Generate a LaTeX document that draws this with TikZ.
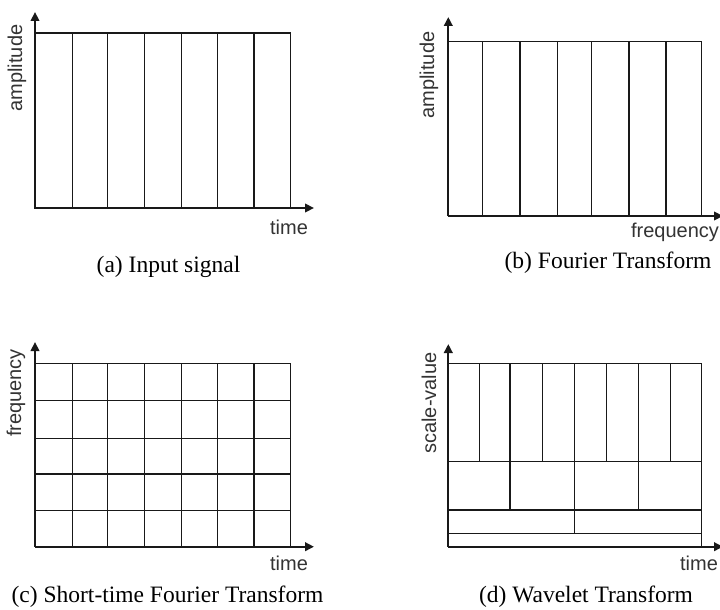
\documentclass[tikz,border=0pt]{standalone}
\usepackage{fontspec}
\setmainfont{Liberation Serif}
\newfontfamily\axfont{Liberation Sans}
\usetikzlibrary{arrows.meta}
\tikzset{
  grid/.style={line width=1.5pt, draw=black!90},
  axis/.style={line width=2.3pt, draw=black!90, -{Triangle[length=9pt,width=8.5pt]}},
  axlabel/.style={font=\axfont\fontsize{20}{22}\selectfont, inner sep=0pt, text=black!80},
  caption/.style={font=\fontsize{23.5}{26}\selectfont, inner sep=0pt}
}
\begin{document}
\begin{tikzpicture}[x=1pt,y=-1pt]
\useasboundingbox (0,0) rectangle (720,610);
% ---------- (a) ----------
\draw[grid] (35,33) rectangle (290.7,208);
\foreach \x in {72.7,107.3,144.3,181.7,217.3,254}
  \draw[grid] (\x,33) -- (\x,208);
\coordinate (a0) at (35,208);
\coordinate (ay) at (35,12);
\coordinate (ax) at (314,208);
\draw[axis] (a0) -- (ay);
\draw[axis] (a0) -- (ax);
\node[axlabel, rotate=90] (aly) at (17,68) {amplitude};
\node[axlabel] (alx) at (289,227) {time};
\node[caption] (acap) at (168.5,267) {(a) Input signal};
% ---------- (b) ----------
\draw[grid] (448.3,41.7) rectangle (701.7,216);
\foreach \x in {482.7,520,557.3,591.7,629,666}
  \draw[grid] (\x,41.7) -- (\x,216);
\coordinate (b0) at (448.3,216);
\coordinate (by) at (448.3,17);
\coordinate (bx) at (723,216);
\draw[axis] (b0) -- (by);
\draw[axis] (b0) -- (bx);
\node[axlabel, rotate=90] (bly) at (429,75) {amplitude};
\node[axlabel] (blx) at (675,232) {frequency};
\node[caption] (bcap) at (608,263) {(b) Fourier Transform};
% ---------- (c) ----------
\draw[grid] (35,363.3) rectangle (290.7,546.7);
\foreach \x in {72.7,107.3,144.3,181.7,217.3,254}
  \draw[grid] (\x,363.3) -- (\x,546.7);
\foreach \y in {400.7,438.3,474,510.7}
  \draw[grid] (35,\y) -- (290.7,\y);
\coordinate (c0) at (35,546.7);
\coordinate (cy) at (35,342);
\coordinate (cx) at (314,546.7);
\draw[axis] (c0) -- (cy);
\draw[axis] (c0) -- (cx);
\node[axlabel, rotate=90] (cly) at (16,393) {frequency};
\node[axlabel] (clx) at (289,563) {time};
\node[caption] (ccap) at (167.5,597) {(c) Short-time Fourier Transform};
% ---------- (d) ----------
\draw[grid] (448.3,363.3) rectangle (701.7,546.7);
\foreach \y in {461.7,510,533.3}
  \draw[grid] (448.3,\y) -- (701.7,\y);
\foreach \x in {479.3,510,542.7,574.3,606.7,638.3,670.7}
  \draw[grid] (\x,363.3) -- (\x,461.7);
\foreach \x in {510,574.3,638.3}
  \draw[grid] (\x,461.7) -- (\x,510);
\draw[grid] (574.3,510) -- (574.3,533.3);
\coordinate (d0) at (448.3,546.7);
\coordinate (dy) at (448.3,344);
\coordinate (dx) at (723,546.7);
\draw[axis] (d0) -- (dy);
\draw[axis] (d0) -- (dx);
\node[axlabel, rotate=90] (dly) at (429,403) {scale-value};
\node[axlabel] (dlx) at (699,563) {time};
\node[caption] (dcap) at (586,597) {(d) Wavelet Transform};
\end{tikzpicture}
\end{document}
